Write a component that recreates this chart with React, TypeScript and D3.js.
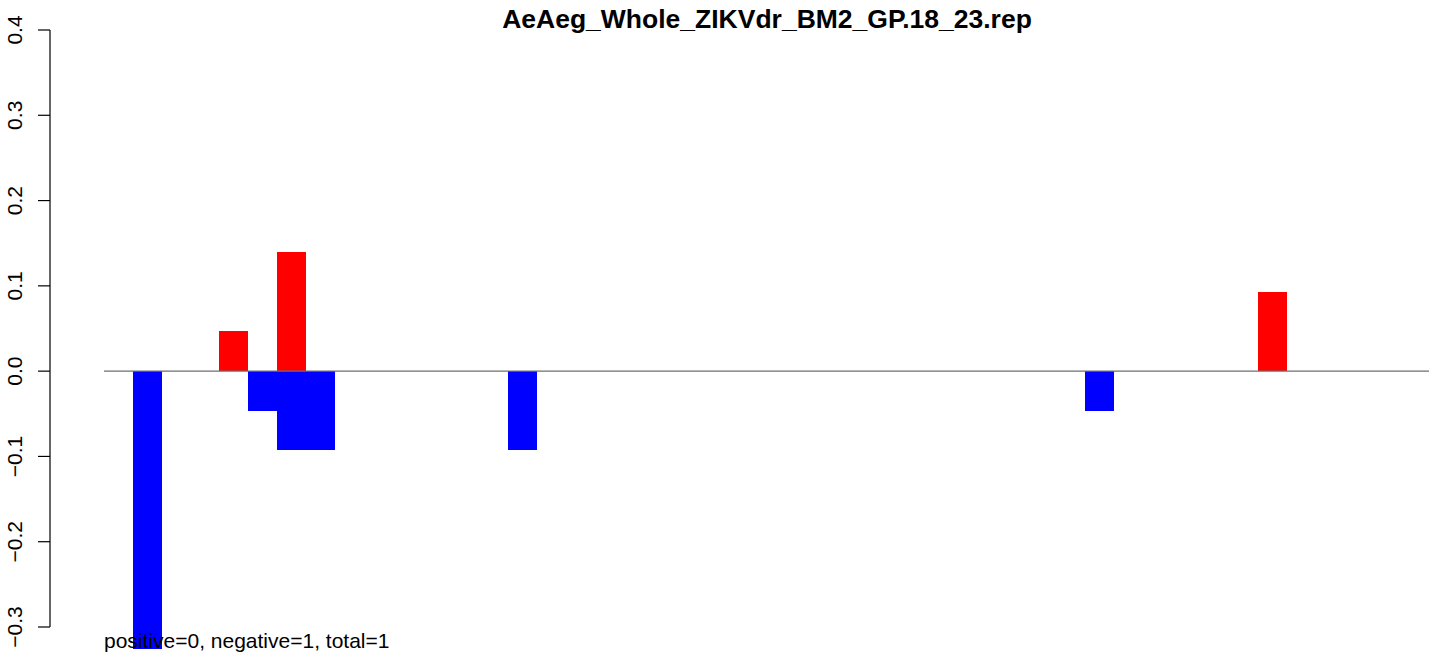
import * as d3 from 'd3';
import React, { useEffect, useRef } from 'react';

const title = 'AeAeg_Whole_ZIKVdr_BM2_GP.18_23.rep';
const footer = 'positive=0, negative=1, total=1';

// bar slots (0-based) and heights
const nSlots = 46;
const posIdx = [4, 6, 40];
const posVal = [0.0465, 0.1395, 0.093];
const negIdx = [1, 5, 6, 7, 14, 34];
const negVal = [-0.3256, -0.0465, -0.093, -0.093, -0.093, -0.0465];
const yTicks = [-0.3, -0.2, -0.1, 0.0, 0.1, 0.2, 0.3, 0.4];

const W = 1429;
const H = 653;

const App = () => {
	const svgRef = useRef(null);

	useEffect(() => {
		const svg = d3.select(svgRef.current);
		svg.selectAll('*').remove();

		const x = d3.scaleLinear().domain([0, nSlots]).range([104, 104 + nSlots * 28.85]);
		const y = d3.scaleLinear().domain([-0.3, 0.4]).range([627, 30]);

		// bars
		const bars = [
			...negIdx.map((i, k) => ({ i, v: negVal[k], c: '#0000ff' })),
			...posIdx.map((i, k) => ({ i, v: posVal[k], c: '#ff0000' })),
		];
		svg.append('g')
			.selectAll('rect')
			.data(bars)
			.enter()
			.append('rect')
			.attr('x', d => x(d.i))
			.attr('width', d => x(d.i + 1) - x(d.i))
			.attr('y', d => Math.min(y(0), y(d.v)))
			.attr('height', d => Math.abs(y(d.v) - y(0)))
			.style('fill', d => d.c)
			.attr('shape-rendering', 'crispEdges');

		// zero line
		svg.append('line')
			.attr('x1', x(0))
			.attr('x2', W)
			.attr('y1', y(0))
			.attr('y2', y(0))
			.attr('stroke', '#6e6e6e')
			.attr('stroke-width', 1.2);

		// y axis, R style
		const axis = svg.append('g').attr('transform', 'translate(50,0)');
		axis.append('line')
			.attr('x1', 0).attr('x2', 0)
			.attr('y1', y(-0.3)).attr('y2', y(0.4))
			.attr('stroke', 'black').attr('stroke-width', 1.2);
		axis.selectAll('.tick')
			.data(yTicks)
			.enter()
			.append('line')
			.attr('x1', -12).attr('x2', 0)
			.attr('y1', d => y(d)).attr('y2', d => y(d))
			.attr('stroke', 'black').attr('stroke-width', 1.2);
		axis.selectAll('text')
			.data(yTicks)
			.enter()
			.append('text')
			.attr('transform', d => `translate(-28,${y(d)}) rotate(-90)`)
			.attr('text-anchor', 'middle')
			.style('font-family', 'Liberation Sans, Arial, sans-serif')
			.style('font-size', '21px')
			.text(d => d3.format('.1f')(d).replace('-', '\u2212'));

		svg.append('text')
			.attr('x', 767)
			.attr('y', 28)
			.attr('text-anchor', 'middle')
			.style('font-family', 'Liberation Sans, Arial, sans-serif')
			.style('font-size', '26.5px')
			.style('font-weight', 'bold')
			.text(title);

		svg.append('text')
			.attr('x', 104)
			.attr('y', 648)
			.style('font-family', 'Liberation Sans, Arial, sans-serif')
			.style('font-size', '21px')
			.text(footer);
	}, []);

	return (
		<svg
			ref={svgRef}
			width={W}
			height={H}
			style={{ position: 'fixed', left: 0, top: 0, background: 'white' }}
		/>
	);
};

export default App;
